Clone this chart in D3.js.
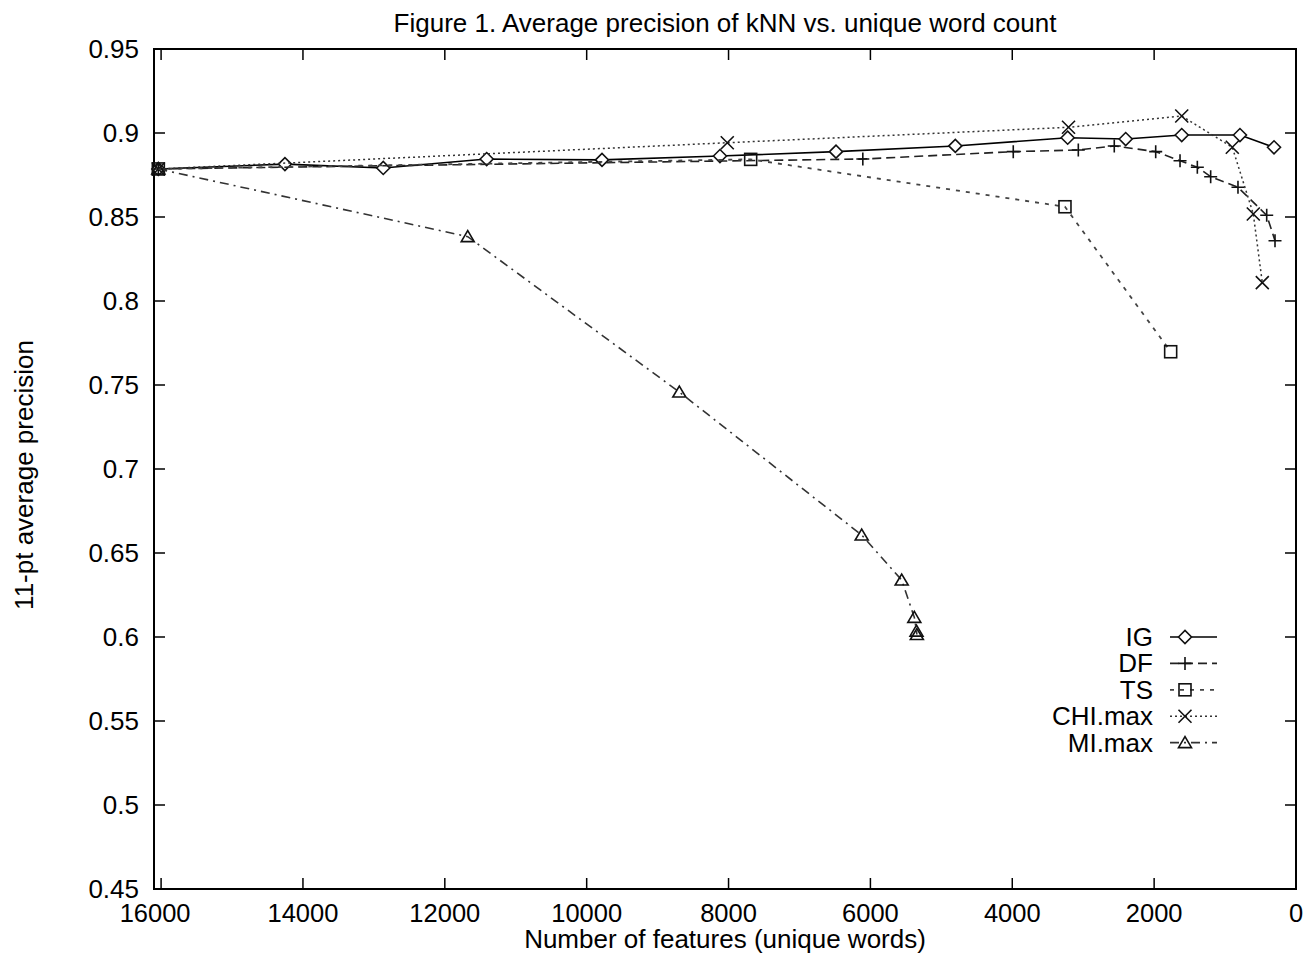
<!DOCTYPE html>
<html><head><meta charset="utf-8">
<script src="https://cdn.jsdelivr.net/npm/d3@7"></script>
<style>body{margin:0;background:#fff}svg{display:block}text{font-family:"Liberation Sans",Arial,sans-serif;fill:#000}</style>
</head><body>
<script>
const title = "Figure 1. Average precision of kNN vs. unique word count";
const xLabel = "Number of features (unique words)";
const yLabel = "11-pt average precision";
const xTicks = [16000,14000,12000,10000,8000,6000,4000,2000,0];
const yTicks = [0.45,0.5,0.55,0.6,0.65,0.7,0.75,0.8,0.85,0.9,0.95];

const igX = [16039,14254,12868,11410,9784,8121,6485,4803,3219,2401,1611,790,310];
const igY = [0.8786,0.8815,0.8792,0.8845,0.8840,0.8863,0.8889,0.8923,0.8972,0.8964,0.8988,0.8988,0.8915];
const dfX = [16039,6107,3986,3069,2562,1978,1635,1391,1203,818,413,296];
const dfY = [0.8786,0.8845,0.8889,0.8899,0.8923,0.8889,0.8835,0.8796,0.8740,0.8677,0.8510,0.8359];
const tsX = [16039,7688,3257,1767];
const tsY = [0.8786,0.8843,0.8561,0.7698];
const chiX = [16039,8018,3207,1611,898,602,475];
const chiY = [0.8786,0.8942,0.9034,0.9101,0.8915,0.8518,0.8109];
const miX = [16039,11677,8694,6123,5559,5381,5350,5345];
const miY = [0.8786,0.8383,0.7458,0.6607,0.6339,0.6117,0.6035,0.6015];

const seriesNames = ["IG","DF","TS","CHI.max","MI.max"];

const W=1306,H=954;
const L=154,R=1296,T=49,B=889;
const FS=26;
const svg=d3.select("body").append("svg").attr("width",W).attr("height",H);
const x=d3.scaleLinear().domain([16100,0]).range([L,R]);
const y=d3.scaleLinear().domain([0.45,0.95]).range([B,T]);

// ticks (mirrored, inward)
const ax=svg.append("g");
const tl=11;
xTicks.forEach(v=>{
  ax.append("line").attr("x1",x(v)).attr("x2",x(v)).attr("y1",B).attr("y2",B-tl).attr("stroke","#000").attr("stroke-width",1.5);
  ax.append("line").attr("x1",x(v)).attr("x2",x(v)).attr("y1",T).attr("y2",T+tl).attr("stroke","#000").attr("stroke-width",1.5);
  ax.append("text").attr("x",x(v)-(v===16000?6:0)).attr("y",922).attr("text-anchor","middle").attr("font-size",25.5).text(v);
});
yTicks.forEach(v=>{
  ax.append("line").attr("x1",L).attr("x2",L+tl).attr("y1",y(v)).attr("y2",y(v)).attr("stroke","#000").attr("stroke-width",1.5);
  ax.append("line").attr("x1",R).attr("x2",R-tl).attr("y1",y(v)).attr("y2",y(v)).attr("stroke","#000").attr("stroke-width",1.5);
  ax.append("text").attr("x",139).attr("y",y(v)+9).attr("text-anchor","end").attr("font-size",FS).text(d3.format("")(v));
});
svg.append("rect").attr("x",L).attr("y",T).attr("width",R-L).attr("height",B-T).attr("fill","none").attr("stroke","#000").attr("stroke-width",2);

svg.append("text").attr("x",725).attr("y",32).attr("text-anchor","middle").attr("font-size",FS).text(title);
svg.append("text").attr("x",725).attr("y",948).attr("text-anchor","middle").attr("font-size",FS).text(xLabel);
svg.append("text").attr("transform","translate(33,475) rotate(-90)").attr("text-anchor","middle").attr("font-size",FS).text(yLabel);

const styles=[
  {dash:null,color:"#000",w:1.6},
  {dash:"9,5",color:"#222",w:1.6},
  {dash:"4,6",color:"#444",w:1.8},
  {dash:"2,3",color:"#333",w:1.5},
  {dash:"9,5,2,5",color:"#333",w:1.6}
];
function marker(g,type,cx,cy){
  const s=6.5;
  let el;
  if(type===0) el=g.append("path").attr("d",`M${cx-s},${cy}L${cx},${cy-s}L${cx+s},${cy}L${cx},${cy+s}Z`).attr("fill","#fff");
  else if(type===1) el=g.append("path").attr("d",`M${cx-s},${cy}H${cx+s}M${cx},${cy-s}V${cy+s}`).attr("fill","none");
  else if(type===2) el=g.append("rect").attr("x",cx-6).attr("y",cy-6).attr("width",12).attr("height",12).attr("fill","none");
  else if(type===3) el=g.append("path").attr("d",`M${cx-s},${cy-s}L${cx+s},${cy+s}M${cx-s},${cy+s}L${cx+s},${cy-s}`).attr("fill","none");
  else el=g.append("path").attr("d",`M${cx-6.5},${cy+5}L${cx+6.5},${cy+5}L${cx},${cy-6}Z`).attr("fill","none");
  el.attr("stroke","#111").attr("stroke-width",1.6);
}
const data=[[igX,igY],[dfX,dfY],[tsX,tsY],[chiX,chiY],[miX,miY]];
const line=d3.line().x(d=>x(d[0])).y(d=>y(d[1]));
data.forEach(([xs,ys],i)=>{
  const pts=xs.map((v,j)=>[v,ys[j]]);
  const g=svg.append("g");
  g.append("path").attr("d",line(pts)).attr("fill","none").attr("stroke",styles[i].color).attr("stroke-width",styles[i].w).attr("stroke-dasharray",styles[i].dash);
  pts.forEach(p=>marker(g,i,x(p[0]),y(p[1])));
});
// legend
const lg=svg.append("g");
seriesNames.forEach((n,i)=>{
  const yy=637+i*26.4;
  lg.append("text").attr("x",1153).attr("y",yy+9).attr("text-anchor","end").attr("font-size",FS).text(n);
  lg.append("line").attr("x1",1170).attr("x2",1217).attr("y1",yy).attr("y2",yy).attr("stroke",styles[i].color).attr("stroke-width",styles[i].w).attr("stroke-dasharray",styles[i].dash);
  marker(lg,i,1185,yy);
});
</script>
</body></html>
